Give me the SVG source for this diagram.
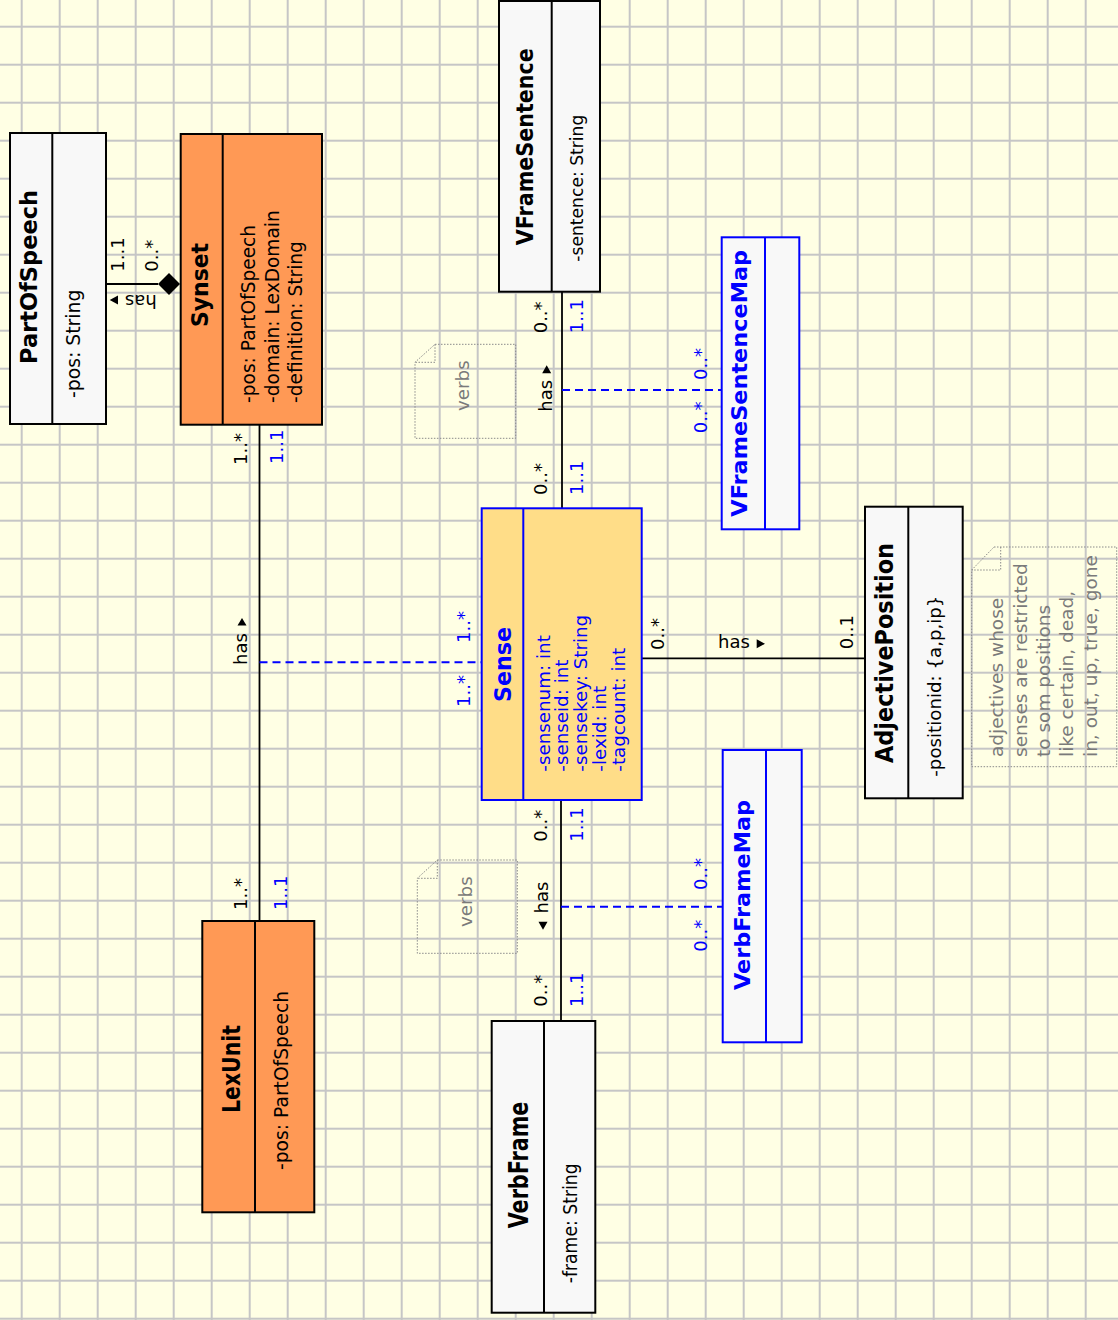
<svg xmlns="http://www.w3.org/2000/svg" width="1118" height="1320" viewBox="0 0 1118 1320">
<defs>
<pattern id="grid" patternUnits="userSpaceOnUse" x="20.7" y="25.7" width="38" height="38">
<rect x="0" y="0" width="2" height="38" fill="#c6c6c6"/>
<rect x="0" y="0" width="38" height="2" fill="#c6c6c6"/>
</pattern>
<style>
text{font-family:"DejaVu Sans","Liberation Sans",sans-serif;fill:#000}
.ttl{font-weight:bold;text-anchor:middle}
.b{fill:#0000ff}
.g{fill:#7a7a7a}
.m{font-size:18px}
.box{stroke:#000;stroke-width:2}
.bbox{stroke:#0000ff;stroke-width:2}
.grey{fill:#f8f8f8}
.orange{fill:#ff9955}
.sense{fill:#ffdd88}
.line{stroke:#000;stroke-width:1.8;fill:none}
.dash{stroke:#0000ff;stroke-width:2;stroke-dasharray:8,5;fill:none}
.note{fill:none;stroke:#8a8a8a;stroke-width:1;stroke-dasharray:1.5,1.5}
</style>
</defs>
<rect x="0" y="0" width="1118" height="1320" fill="#ffffe4"/>
<rect x="0" y="0" width="1118" height="1320" fill="url(#grid)"/>

<g id="connectors">
<path class="line" d="M106,284 H158"/>
<polygon points="180,284 169,273 158,284 169,295" fill="#000"/>
<path class="line" d="M259.5,425 V921"/>
<path class="dash" d="M259.5,662.3 H481.7"/>
<path class="line" d="M562,292 V508.3"/>
<path class="dash" d="M562,390 H721.7"/>
<path class="line" d="M641.7,658.3 H865"/>
<path class="line" d="M561,800 V1021"/>
<path class="dash" d="M561,906.7 H722.7"/>

<!-- PartOfSpeech - Synset labels -->
<text class="m" transform="translate(124,271.7) rotate(-90)">1..1</text>
<text class="m" transform="translate(158,271.7) rotate(-90)">0..*</text>
<g transform="translate(156.7,295) rotate(180)">
<text class="m" x="0" y="0">has</text>
<polygon points="38.7,-9.5 47,-5 38.7,-0.5" fill="#000"/>
</g>

<!-- Synset - LexUnit labels -->
<text class="m" transform="translate(246.7,465) rotate(-90)">1..*</text>
<text class="m b" transform="translate(283,464) rotate(-90)">1..1</text>
<g transform="translate(247,665) rotate(-90)">
<text class="m" x="0" y="0">has</text>
<polygon points="39.5,-9.5 47,-5 39.5,-0.5" fill="#000"/>
</g>
<text class="m" transform="translate(246.7,910) rotate(-90)">1..*</text>
<text class="m b" transform="translate(286.7,910) rotate(-90)">1..1</text>
<text class="m b" transform="translate(470,643) rotate(-90)">1..*</text>
<text class="m b" transform="translate(470,707) rotate(-90)">1..*</text>

<!-- VFrameSentence - Sense labels -->
<text class="m" transform="translate(546.7,333.3) rotate(-90)">0..*</text>
<text class="m b" transform="translate(583,333.3) rotate(-90)">1..1</text>
<g transform="translate(551.7,411.7) rotate(-90)">
<text class="m" x="0" y="0">has</text>
<polygon points="38.5,-9.5 46.5,-5 38.5,-0.5" fill="#000"/>
</g>
<text class="m" transform="translate(546.7,495) rotate(-90)">0..*</text>
<text class="m b" transform="translate(583,495) rotate(-90)">1..1</text>
<text class="m b" transform="translate(706.7,380) rotate(-90)">0..*</text>
<text class="m b" transform="translate(706.7,433.3) rotate(-90)">0..*</text>

<!-- Sense - AdjectivePosition labels -->
<text class="m" transform="translate(663.5,650) rotate(-90)">0..*</text>
<text class="m" x="718" y="648.3">has</text>
<polygon points="756.7,639.3 765,643.8 756.7,648.3" fill="#000"/>
<text class="m" transform="translate(853,649.3) rotate(-90)">0..1</text>

<!-- Sense - VerbFrame labels -->
<text class="m" transform="translate(546.7,841.7) rotate(-90)">0..*</text>
<text class="m b" transform="translate(583,841.7) rotate(-90)">1..1</text>
<g transform="translate(548,930) rotate(-90)">
<polygon points="8.3,-9.5 0.3,-5 8.3,-0.5" fill="#000"/>
<text class="m" x="16.5" y="0">has</text>
</g>
<text class="m" transform="translate(546.7,1006.7) rotate(-90)">0..*</text>
<text class="m b" transform="translate(583,1007) rotate(-90)">1..1</text>
<text class="m b" transform="translate(707,890) rotate(-90)">0..*</text>
<text class="m b" transform="translate(707,951.7) rotate(-90)">0..*</text>
</g>

<g id="PartOfSpeech">
<rect class="box grey" x="10" y="133" width="96" height="291"/>
<line class="box" x1="52.3" y1="133" x2="52.3" y2="424"/>
<text class="ttl" font-size="22.5" textLength="174" lengthAdjust="spacingAndGlyphs" transform="translate(37.3,277) rotate(-90)">PartOfSpeech</text>
<text font-size="18.8" transform="translate(80,398) rotate(-90)">-pos: String</text>
</g>

<g id="Synset">
<rect class="box orange" x="180.7" y="134" width="141.3" height="290.7"/>
<line class="box" x1="222.7" y1="134" x2="222.7" y2="424.7"/>
<text class="ttl" font-size="22.5" textLength="84" lengthAdjust="spacingAndGlyphs" transform="translate(207.5,285) rotate(-90)">Synset</text>
<text font-size="18.6" transform="translate(255,403) rotate(-90)">-pos: PartOfSpeech</text>
<text font-size="18.6" transform="translate(278.5,403) rotate(-90)">-domain: LexDomain</text>
<text font-size="18.6" transform="translate(302,403) rotate(-90)">-definition: String</text>
</g>

<g id="VFrameSentence">
<rect class="box grey" x="499" y="1" width="101" height="290.7"/>
<line class="box" x1="551.7" y1="1" x2="551.7" y2="291.7"/>
<text class="ttl" font-size="23.5" textLength="197" lengthAdjust="spacingAndGlyphs" transform="translate(533,146.7) rotate(-90)">VFrameSentence</text>
<text font-size="18" textLength="147" lengthAdjust="spacingAndGlyphs" transform="translate(583,261.7) rotate(-90)">-sentence: String</text>
</g>

<g id="VFrameSentenceMap">
<rect class="bbox grey" x="721.7" y="237.3" width="77.6" height="292"/>
<line class="bbox" x1="765" y1="237.3" x2="765" y2="529.3"/>
<text class="ttl b" font-size="21" textLength="266.7" lengthAdjust="spacingAndGlyphs" transform="translate(746.7,383.3) rotate(-90)">VFrameSentenceMap</text>
</g>

<g id="Sense">
<rect class="bbox sense" x="481.7" y="508.3" width="160" height="291.7"/>
<line class="bbox" x1="523.3" y1="508.3" x2="523.3" y2="800"/>
<text class="ttl b" font-size="23" textLength="75" lengthAdjust="spacingAndGlyphs" transform="translate(510.5,664.5) rotate(-90)">Sense</text>
<text class="b" font-size="18.3" transform="translate(549.5,771.7) rotate(-90)">-sensenum: int</text>
<text class="b" font-size="18.3" transform="translate(568.3,771.7) rotate(-90)">-senseid: int</text>
<text class="b" font-size="18.3" transform="translate(587,771.7) rotate(-90)">-sensekey: String</text>
<text class="b" font-size="18.3" transform="translate(605.8,771.7) rotate(-90)">-lexid: int</text>
<text class="b" font-size="18.3" transform="translate(624.6,771.7) rotate(-90)">-tagcount: int</text>
</g>

<g id="AdjectivePosition">
<rect class="box grey" x="865" y="506.7" width="97.7" height="291.6"/>
<line class="box" x1="908.3" y1="506.7" x2="908.3" y2="798.3"/>
<text class="ttl" font-size="24" textLength="220" lengthAdjust="spacingAndGlyphs" transform="translate(893.3,653) rotate(-90)">AdjectivePosition</text>
<text font-size="18.2" transform="translate(941,776.7) rotate(-90)">-positionid: {a,p,ip}</text>
</g>

<g id="VerbFrameMap">
<rect class="bbox grey" x="722.7" y="750" width="79" height="292.3"/>
<line class="bbox" x1="766" y1="750" x2="766" y2="1042.3"/>
<text class="ttl b" font-size="21.5" textLength="190" lengthAdjust="spacingAndGlyphs" transform="translate(750,895) rotate(-90)">VerbFrameMap</text>
</g>

<g id="LexUnit">
<rect class="box orange" x="202.3" y="921" width="112" height="291.3"/>
<line class="box" x1="255" y1="921" x2="255" y2="1212.3"/>
<text class="ttl" font-size="25" textLength="88" lengthAdjust="spacingAndGlyphs" transform="translate(240,1069) rotate(-90)">LexUnit</text>
<text font-size="18.7" transform="translate(288.3,1170) rotate(-90)">-pos: PartOfSpeech</text>
</g>

<g id="VerbFrame">
<rect class="box grey" x="491.7" y="1021" width="103.6" height="291.7"/>
<line class="box" x1="544" y1="1021" x2="544" y2="1312.7"/>
<text class="ttl" font-size="26" textLength="126.6" lengthAdjust="spacingAndGlyphs" transform="translate(528.3,1165) rotate(-90)">VerbFrame</text>
<text font-size="19" textLength="120" lengthAdjust="spacingAndGlyphs" transform="translate(576.7,1283.3) rotate(-90)">-frame: String</text>
</g>

<g id="note-verbs-1">
<path class="note" d="M435,344.3 H515.7 V438.3 H415 V362.3 Z"/>
<path class="note" d="M435,344.3 V362.3 H415"/>
<text class="g" font-size="18.3" text-anchor="middle" transform="translate(469,385.7) rotate(-90)">verbs</text>
</g>

<g id="note-verbs-2">
<path class="note" d="M437.3,860 H517.3 V953.3 H417.3 V878.3 Z"/>
<path class="note" d="M437.3,860 V878.3 H417.3"/>
<text class="g" font-size="18.3" text-anchor="middle" transform="translate(471.5,901.7) rotate(-90)">verbs</text>
</g>

<g id="note-adjectives">
<path class="note" d="M994,547 H1116.7 V766.7 H971.7 V570 Z"/>
<path class="note" d="M1000.7,547 V570 H971.7"/>
<text class="g" font-size="18.5" transform="translate(1003.3,757) rotate(-90)">adjectives whose</text>
<text class="g" font-size="18.5" transform="translate(1026.7,757) rotate(-90)">senses are restricted</text>
<text class="g" font-size="18.5" transform="translate(1050,757) rotate(-90)">to som positions</text>
<text class="g" font-size="18.5" transform="translate(1073.3,757) rotate(-90)">like certain, dead,</text>
<text class="g" font-size="18.5" transform="translate(1096.7,757) rotate(-90)">in, out, up, true, gone</text>
</g>
</svg>
